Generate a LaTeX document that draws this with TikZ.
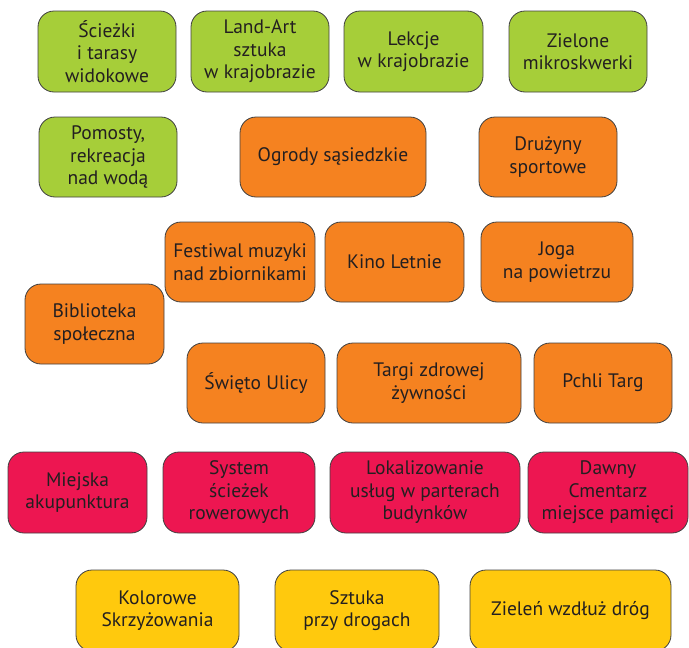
\documentclass[tikz,border=0pt]{standalone}
\usepackage{fontspec}
\setmainfont{PT Sans}
\usetikzlibrary{positioning}
\definecolor{leafgreen}{HTML}{A6CE39}
\definecolor{warmorange}{HTML}{F58220}
\definecolor{crimson}{HTML}{ED1651}
\definecolor{sunyellow}{HTML}{FFC90D}
\definecolor{inkdark}{HTML}{231F20}
\begin{document}
\begin{tikzpicture}[
    x=1pt, y=-1pt,
    tile/.style={
        draw=black!75,
        line width=0.8pt,
        rounded corners=16pt,
        minimum width=138pt,
        minimum height=80pt,
        inner sep=2pt,
        outer sep=0pt,
        align=center,
        text=inkdark,
        font=\fontsize{19.5}{22.5}\selectfont
    },
    greenbox/.style={tile, fill=leafgreen},
    orangebox/.style={tile, fill=warmorange},
    redbox/.style={tile, fill=crimson},
    yellowbox/.style={tile, fill=sunyellow},
    ]
    \useasboundingbox (0,0) rectangle (689,648);

    % green row
    \node[greenbox, minimum height=81pt] (paths) at (107,51.5) {Ścieżki\\i tarasy\\widokowe};
    \node[greenbox, minimum height=81pt, right=15pt of paths] (landart) {Land-Art\\sztuka\\w krajobrazie};
    \node[greenbox, minimum height=81pt, minimum width=139pt, right=15pt of landart] (lessons) {Lekcje\\w krajobrazie};
    \node[greenbox, minimum height=81pt, right=26pt of lessons] (squares) {Zielone\\mikroskwerki};

    \node[greenbox] (piers) at (108,157) {Pomosty,\\rekreacja\\nad wodą};
    \node[orangebox, minimum width=186pt, right=63pt of piers] (gardens) {Ogrody sąsiedzkie};
    \node[orangebox, right=53pt of gardens] (teams) {Drużyny\\sportowe};

    % orange rows
    \node[orangebox, minimum width=150pt] (festival) at (240,262) {Festiwal muzyki\\nad zbiornikami};
    \node[orangebox, minimum width=139pt, right=10pt of festival] (cinema) {Kino Letnie};
    \node[orangebox, minimum width=152pt, right=17pt of cinema] (yoga) {Joga\\na powietrzu};

    \node[orangebox, minimum width=139pt] (library) at (94.5,324) {Biblioteka\\społeczna};

    \node[orangebox] (feast) at (256,383) {Święto Ulicy};
    \node[orangebox, minimum width=184pt, right=12pt of feast] (fair) {Targi zdrowej\\żywności};
    \node[orangebox, right=13pt of fair] (flea) {Pchli Targ};

    % red row
    \node[redbox, minimum width=139pt, minimum height=81pt] (acupuncture) at (77.5,492.5) {Miejska\\akupunktura};
    \node[redbox, minimum width=152pt, minimum height=81pt, right=16pt of acupuncture] (bikes) {System\\ścieżek\\rowerowych};
    \node[redbox, minimum width=190pt, minimum height=81pt, right=15pt of bikes] (services) {Lokalizowanie\\usług w parterach\\budynków};
    \node[redbox, minimum width=160pt, minimum height=81pt, right=8pt of services] (cemetery) {Dawny\\Cmentarz\\miejsce pamięci};

    % yellow row
    \node[yellowbox, minimum width=163pt, minimum height=81pt] (crossings) at (157.5,610.5) {Kolorowe\\Skrzyżowania};
    \node[yellowbox, minimum width=164pt, minimum height=81pt, right=36pt of crossings] (roadart) {Sztuka\\przy drogach};
    \node[yellowbox, minimum width=201pt, minimum height=81pt, right=31pt of roadart] (roadgreen) {Zieleń wzdłuż dróg};
\end{tikzpicture}
\end{document}
